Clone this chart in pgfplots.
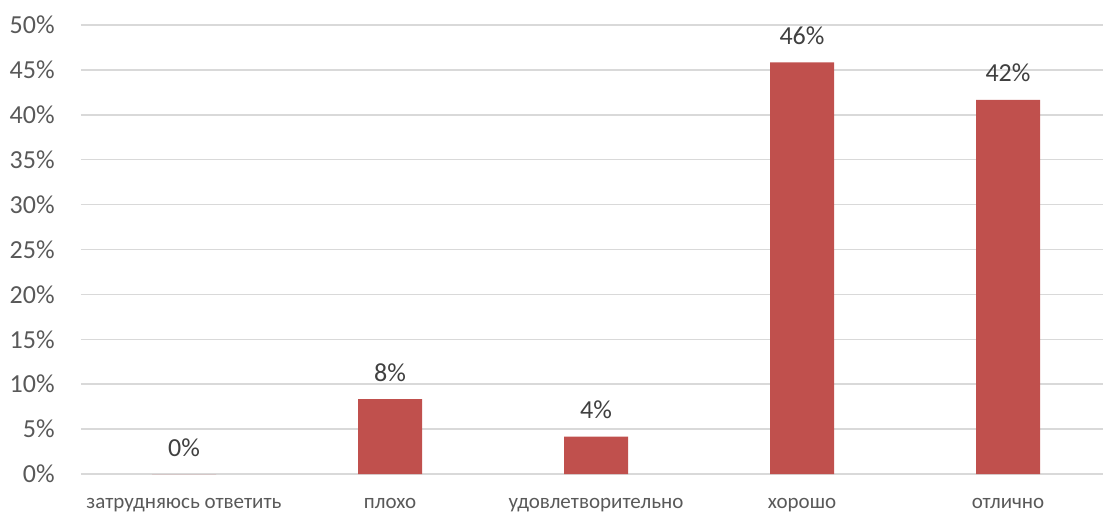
\documentclass[border=0pt]{standalone}
\usepackage{pgfplots}
\pgfplotsset{compat=1.18}
\usepackage{fontspec}
\setmainfont{Carlito}
\definecolor{barred}{HTML}{C0504D}
\definecolor{ticktext}{HTML}{595959}
\definecolor{datatext}{HTML}{404040}
\definecolor{gridgray}{HTML}{D9D9D9}
\begin{document}
\begin{tikzpicture}
\useasboundingbox (0,0) rectangle (551.5pt,255.5pt);
\begin{axis}[
  at={(40.5pt,18.5pt)}, anchor=south west,
  scale only axis,
  width=511pt, height=224.5pt,
  xmin=-0.5, xmax=4.461,
  ymin=0, ymax=50,
  ybar, bar width=32pt, bar shift=0pt,
  axis line style={draw=none},
  major tick length=0pt,
  ymajorgrids,
  grid style={gridgray, line width=0.75pt},
  ytick={0,5,...,50},
  yticklabel={\pgfmathprintnumber{\tick}\%},
  /pgf/number format/assume math mode=true,
  yticklabel style={font=\fontsize{13}{15}\selectfont, text=ticktext, anchor=east, inner sep=0pt, xshift=-13pt},
  xtick={0,1,2,3,4},
  xticklabels={затрудняюсь ответить, плохо, удовлетворительно, хорошо, отлично},
  xticklabel style={font=\fontsize{10.5}{12}\selectfont, text=ticktext, anchor=base, inner sep=0pt, yshift=-17pt},
  nodes near coords={\pgfmathprintnumber[fixed,precision=0]{\pgfplotspointmeta}\%},
  every node near coord/.append style={font=\fontsize{13}{15}\selectfont, text=datatext, anchor=base, inner sep=0pt, yshift=9pt},
]
\addplot[fill=barred, draw=none] coordinates {(0,0) (1,8.33) (2,4.17) (3,45.83) (4,41.67)};
\end{axis}
\end{tikzpicture}
\end{document}
